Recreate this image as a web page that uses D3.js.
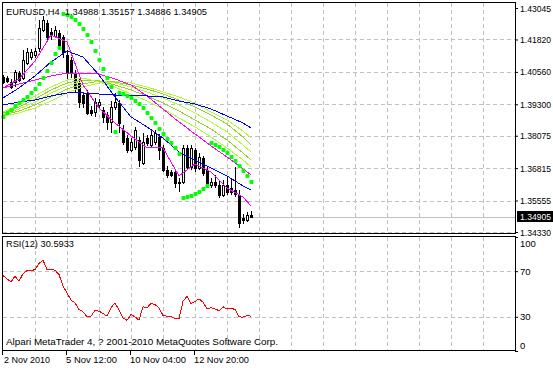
<!DOCTYPE html>
<html>
<head>
<meta charset="utf-8">
<script src="https://cdn.jsdelivr.net/npm/d3@7"></script>
<style>
body { margin: 0; background: #fff; }
svg { display: block; }
text { font-family: "Liberation Sans", Arial, sans-serif; font-size: 9.5px; fill: #000; white-space: pre; }
</style>
</head>
<body>
<svg id="chart" width="553" height="368"></svg>
<script>
// EURUSD H4 bars, first bar 2 Nov 2010 20:00
const opens = [1.40361,1.40322,1.40166,1.40166,1.40516,1.40322,1.40905,1.41139,1.41217,1.41489,
  1.42189,1.42461,1.42111,1.41956,1.42072,1.41917,1.41217,1.41022,1.40516,1.40127,
  1.39661,1.39739,1.39077,1.38999,1.39272,1.39077,1.38883,1.38610,1.39194,1.39349,
  1.38299,1.37988,1.37521,1.37638,1.37910,1.37015,1.37988,1.37716,1.37832,1.38027,
  1.37599,1.36743,1.36665,1.36665,1.36276,1.36276,1.37599,1.36860,1.37521,1.36821,
  1.37210,1.36743,1.36160,1.36276,1.36160,1.35771,1.36160,1.36043,1.35965,1.35771,
  1.34876,1.34798,1.34988];
const highs = [1.40439,1.40400,1.40283,1.40633,1.40594,1.41411,1.41489,1.41450,1.41489,1.42578,
  1.42734,1.42578,1.42267,1.42345,1.42189,1.41995,1.41411,1.41139,1.40633,1.40322,
  1.39777,1.39855,1.39233,1.39544,1.39505,1.39194,1.38999,1.39427,1.39739,1.39466,
  1.38494,1.38105,1.37988,1.38416,1.38027,1.38182,1.38105,1.38299,1.38299,1.38143,
  1.37716,1.36899,1.36743,1.36743,1.36432,1.37716,1.37716,1.37716,1.37599,1.37404,
  1.37288,1.36899,1.36432,1.36549,1.36354,1.36354,1.36471,1.36432,1.36860,1.35965,
  1.35031,1.35109,1.35157];
const lows = [1.40088,1.40127,1.39894,1.39972,1.40166,1.40244,1.40828,1.41022,1.41100,1.41333,
  1.42111,1.41800,1.41800,1.41878,1.41411,1.41100,1.40244,1.40322,1.39777,1.39155,
  1.39155,1.38883,1.38844,1.38805,1.39155,1.38571,1.38299,1.38182,1.39077,1.38182,
  1.37716,1.37404,1.37443,1.37521,1.36860,1.36938,1.37677,1.37599,1.37716,1.37132,
  1.36665,1.36432,1.36471,1.36043,1.35887,1.36198,1.36743,1.36743,1.36665,1.36743,
  1.36510,1.36043,1.36043,1.36043,1.35654,1.35693,1.35771,1.35771,1.35693,1.34487,
  1.34642,1.34720,1.34886];
const closes = [1.40166,1.40205,1.39972,1.40555,1.40244,1.41022,1.41333,1.41333,1.41372,1.42267,
  1.42578,1.41917,1.41995,1.42189,1.41528,1.41333,1.40555,1.40516,1.39933,1.39388,
  1.39349,1.38960,1.38960,1.39388,1.39388,1.38805,1.38610,1.39194,1.39388,1.38571,
  1.37832,1.37521,1.37832,1.38299,1.37132,1.37832,1.37793,1.38105,1.38182,1.37521,
  1.36743,1.36549,1.36549,1.36237,1.36237,1.37599,1.36860,1.37599,1.36821,1.37249,
  1.36626,1.36160,1.36276,1.36160,1.35771,1.36160,1.35887,1.35887,1.35809,1.34681,
  1.34798,1.34992,1.34905];

// indicator lines read at these bars
const sampleBars = [0,4,8,12,16,20,24,28,32,36,40,44,48,52,56,60,62];
const blueFast = [1.39544,1.39933,1.40400,1.40944,1.41372,1.41139,1.40439,1.39583,1.38805,1.38416,1.37988,1.37443,1.37132,1.36821,1.36510,1.36121,1.35965];
const blueSlow = [1.39272,1.39388,1.39466,1.39622,1.39739,1.39739,1.39699,1.39661,1.39622,1.39622,1.39583,1.39427,1.39310,1.39116,1.38844,1.38571,1.38377];
const magentaFast = [1.39933,1.40283,1.40983,1.41995,1.41722,1.40049,1.39155,1.38571,1.38066,1.37599,1.37599,1.36510,1.36976,1.36665,1.36043,1.35693,1.35343];
const magentaSlow = [1.39933,1.40088,1.40244,1.40400,1.40516,1.40516,1.40477,1.40283,1.40049,1.39622,1.39116,1.38610,1.38143,1.37677,1.37249,1.36782,1.36549];
const green1 = [1.38999,1.39272,1.39622,1.39972,1.40244,1.40322,1.40166,1.39972,1.39699,1.39427,1.39116,1.38766,1.38416,1.38027,1.37599,1.37132,1.36860];
const green2 = [1.38960,1.39194,1.39505,1.39855,1.40127,1.40244,1.40205,1.40049,1.39855,1.39622,1.39349,1.39038,1.38688,1.38338,1.37910,1.37404,1.37132];
const green3 = [1.38921,1.39116,1.39388,1.39739,1.40011,1.40205,1.40205,1.40127,1.39972,1.39777,1.39544,1.39272,1.38960,1.38610,1.38221,1.37716,1.37443];
const green4 = [1.38883,1.39038,1.39272,1.39583,1.39894,1.40088,1.40205,1.40166,1.40049,1.39894,1.39699,1.39466,1.39194,1.38883,1.38532,1.38027,1.37716];
const green5 = [1.38844,1.38960,1.39155,1.39427,1.39739,1.39972,1.40127,1.40205,1.40127,1.39972,1.39777,1.39583,1.39349,1.38999,1.38688,1.38260,1.37988];

// parabolic SAR, one per bar
const sar = [1.38805,1.38960,1.39077,1.39233,1.39349,1.39466,1.39583,1.39739,1.39894,1.40088,
  1.40322,1.40594,1.40905,1.41255,1.41489,1.42810,1.42772,1.42695,1.42578,1.42422,
  1.42228,1.41995,1.41722,1.41372,1.41022,1.40672,1.40322,1.39972,1.38221,1.39739,
  1.39699,1.39622,1.39544,1.39427,1.39310,1.39155,1.38960,1.38766,1.38571,1.38338,
  1.38143,1.37949,1.37793,1.37599,1.37365,1.35654,1.35693,1.35732,1.35809,1.35887,
  1.36004,1.36121,1.37793,1.37716,1.37638,1.37521,1.37404,1.37249,1.37093,1.36899,
  1.36704,1.36510,1.36276];

const rsi = [66.2,63.3,60.7,65.6,61.2,67.7,70.6,70.3,71.5,76.8,
  79.7,71.5,71.5,70.9,67.1,56.9,51.0,44.6,42.3,36.4,
  34.4,30.0,30.6,35.5,34.9,32.9,30.6,37.9,42.3,35.8,
  28.8,27.0,32.0,30.0,27.0,38.8,37.9,41.7,40.8,37.9,
  31.1,30.6,30.6,28.2,28.2,43.6,48.0,41.7,43.4,45.8,
  42.8,37.0,37.9,37.0,35.3,38.8,37.0,37.6,36.4,30.0,
  29.7,31.2,30.5933];

const priceTicks = [1.43045,1.41820,1.40560,1.39300,1.38075,1.36815,1.35555,1.34330];
const rsiTicks = [0,30,70,100];
const rsiLevels = [30,70];
const lastPrice = 1.34905;
const dateBars = [0,16,32,48];
const dateLabels = ["2 Nov 2010","5 Nov 12:00","10 Nov 04:00","12 Nov 20:00"];
const dateWidths = [46,51,56,55];

const svg = d3.select("#chart");
const x = d3.scaleLinear().domain([0, 62]).range([3, 251]);
const y = d3.scaleLinear().domain([1.34330, 1.43045]).range([232, 8]);
const yR = d3.scaleLinear().domain([0, 100]).range([351, 237]);
const px = v => Math.round(v) + 0.5;

// grid
const grid = svg.append("g")
    .attr("stroke", "#c0c0c0")
    .attr("stroke-dasharray", "4,3")
    .attr("shape-rendering", "crispEdges");
d3.range(8, 121, 8).forEach(b => {
  grid.append("line").attr("x1", px(x(b))).attr("x2", px(x(b))).attr("y1", 3).attr("y2", 233);
  grid.append("line").attr("x1", px(x(b))).attr("x2", px(x(b))).attr("y1", 237).attr("y2", 350);
});
priceTicks.slice(1).forEach(p => {
  grid.append("line").attr("x1", 3).attr("x2", 515).attr("y1", px(y(p))).attr("y2", px(y(p)));
});
rsiLevels.forEach(v => {
  grid.append("line").attr("x1", 3).attr("x2", 515).attr("y1", px(yR(v))).attr("y2", px(yR(v)));
});

// last price line
svg.append("line")
    .attr("x1", 3).attr("x2", 515)
    .attr("y1", px(y(lastPrice))).attr("y2", px(y(lastPrice)))
    .attr("stroke", "#c0c0c0")
    .attr("shape-rendering", "crispEdges");

// candles
const bars = svg.append("g").attr("shape-rendering", "crispEdges");
opens.forEach((o, i) => {
  const c = closes[i];
  const cx = Math.round(x(i));
  bars.append("rect")
      .attr("x", cx).attr("width", 1)
      .attr("y", Math.round(y(highs[i])))
      .attr("height", Math.max(1, Math.round(y(lows[i])) - Math.round(y(highs[i]))))
      .attr("fill", "#000");
  const top = Math.round(y(Math.max(o, c)));
  const bot = Math.round(y(Math.min(o, c)));
  if (c > o) {
    bars.append("rect")
        .attr("x", cx - 0.5).attr("y", top + 0.5)
        .attr("width", 2).attr("height", Math.max(1, bot - top))
        .attr("fill", "#fff").attr("stroke", "#000");
  } else {
    bars.append("rect")
        .attr("x", cx - 1).attr("y", top)
        .attr("width", 3).attr("height", Math.max(1, bot - top + 1))
        .attr("fill", "#000");
  }
});

// moving averages
const line = d3.line().x(d => x(d[0])).y(d => y(d[1]));
const maLines = [
  [green5, "#adff2f"], [green4, "#9acd32"], [green3, "#adff2f"], [green2, "#9acd32"], [green1, "#adff2f"],
  [magentaSlow, "#ff00ff"], [magentaFast, "#ff00ff"],
  [blueSlow, "#0000ff"], [blueFast, "#0000ff"]
];
maLines.forEach(([vals, col]) => {
  svg.append("path")
      .datum(d3.zip(sampleBars, vals))
      .attr("d", line)
      .attr("fill", "none")
      .attr("stroke", col)
      .attr("stroke-width", 1)
      .attr("shape-rendering", "crispEdges");
});

// SAR dots
svg.append("g").selectAll("rect")
  .data(sar)
  .join("rect")
    .attr("x", (d, i) => Math.round(x(i)) - 1.5)
    .attr("y", d => Math.round(y(d)) - 2)
    .attr("width", 4).attr("height", 4)
    .attr("rx", 1)
    .attr("fill", "#00ff00");

// RSI
svg.append("path")
    .datum(rsi)
    .attr("d", d3.line().x((d, i) => x(i)).y(d => yR(d)))
    .attr("fill", "none")
    .attr("stroke", "#ff0000")
    .attr("stroke-width", 1)
    .attr("shape-rendering", "crispEdges");

// frames
svg.append("rect").attr("x", 2.5).attr("y", 2.5).attr("width", 513).attr("height", 231)
    .attr("fill", "none").attr("stroke", "#000").attr("shape-rendering", "crispEdges");
svg.append("rect").attr("x", 2.5).attr("y", 236.5).attr("width", 513).attr("height", 114)
    .attr("fill", "none").attr("stroke", "#000").attr("shape-rendering", "crispEdges");

// price axis
const yAxis = svg.append("g")
    .attr("transform", "translate(515,0)")
    .call(d3.axisRight(y).tickValues(priceTicks).tickSize(3).tickPadding(2).tickFormat(d3.format(".5f")));
yAxis.select(".domain").remove();
yAxis.attr("font-family", null).attr("font-size", null);
yAxis.selectAll("text").attr("textLength", 31).attr("lengthAdjust", "spacingAndGlyphs");

// last price marker
svg.append("rect").attr("x", 517).attr("y", 211).attr("width", 36).attr("height", 11).attr("fill", "#000");
svg.append("text").attr("x", 520).attr("y", y(lastPrice)).attr("dy", "0.34em")
    .attr("textLength", 31).attr("lengthAdjust", "spacingAndGlyphs")
    .style("fill", "#fff").text(d3.format(".5f")(lastPrice));

// RSI axis
const rAxis = svg.append("g")
    .attr("transform", "translate(515,0)")
    .call(d3.axisRight(yR).tickValues(rsiTicks).tickSize(3).tickPadding(2));
rAxis.select(".domain").remove();
rAxis.attr("font-family", null).attr("font-size", null);
rAxis.selectAll("text").attr("dy", d => d === 100 ? "0.95em" : d === 0 ? "-0.3em" : "0.32em");

// time axis
dateBars.forEach((b, i) => {
  svg.append("line")
      .attr("x1", px(x(b) - 1)).attr("x2", px(x(b) - 1))
      .attr("y1", 351).attr("y2", 355)
      .attr("stroke", "#000").attr("shape-rendering", "crispEdges");
  svg.append("text")
      .attr("x", x(b) + (i === 0 ? 1 : -1)).attr("y", 362.5)
      .attr("textLength", dateWidths[i]).attr("lengthAdjust", "spacingAndGlyphs")
      .text(dateLabels[i]);
});

// captions
svg.append("text").attr("x", 6).attr("y", 14.7)
    .attr("textLength", 201).attr("lengthAdjust", "spacingAndGlyphs")
    .text("EURUSD,H4  1.34988 1.35157 1.34886 1.34905");
svg.append("text").attr("x", 6).attr("y", 247)
    .attr("textLength", 68).attr("lengthAdjust", "spacingAndGlyphs")
    .text("RSI(12) 30.5933");
svg.append("text").attr("x", 6).attr("y", 344.7)
    .attr("textLength", 272).attr("lengthAdjust", "spacingAndGlyphs")
    .text("Alpari MetaTrader 4, ? 2001-2010 MetaQuotes Software Corp.");
</script>
</body>
</html>
